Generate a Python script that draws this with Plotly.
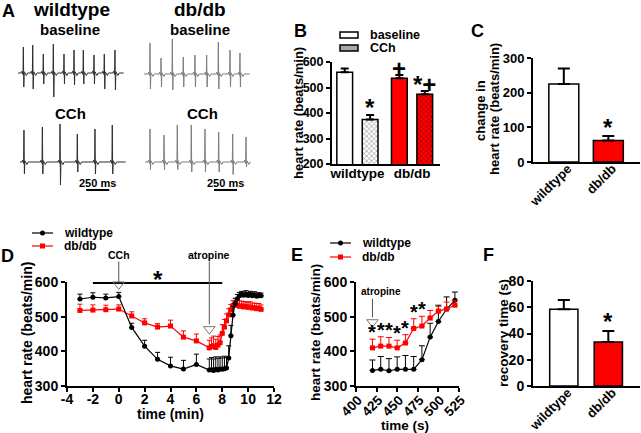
import plotly.graph_objects as go

W, H = 641, 433
FONT = "Liberation Sans"

# ---------------- data ----------------
# Panel A: ECG traces (beat times in ms, R and S amplitudes in mV)
WT_BASE_BEATS = [58, 160, 275, 384, 500, 609, 710, 826, 938, 1054]
WT_BASE_R = [1.04, 1.12, 0.76, 1.16, 0.76, 0.92, 0.92, 0.72, 0.76, 0.92]
WT_BASE_S = [0.56, 0.64, 0.44, 0.96, 0.44, 0.48, 0.44, 0.44, 0.64, 0.68]

DB_BASE_BEATS = [65, 185, 308, 427, 554, 681, 808, 935, 1043]
DB_BASE_R = [1.24, 0.64, 1.44, 0.68, 0.76, 0.76, 1.28, 0.96, 0.84]
DB_BASE_S = [0.60, 0.52, 0.64, 0.52, 0.52, 0.52, 0.60, 0.52, 0.52]

WT_CCH_BEATS = [43, 243, 435, 623, 815, 1003]
WT_CCH_R = [1.28, 1.40, 1.52, 1.12, 1.32, 1.48]
WT_CCH_S = [0.48, 0.48, 0.92, 0.40, 0.48, 0.48]

DB_CCH_BEATS = [54, 207, 351, 503, 652, 801, 953, 1098]
DB_CCH_R = [1.32, 1.08, 1.48, 1.48, 1.32, 1.20, 1.12, 1.00]
DB_CCH_S = [0.30, 0.30, 0.30, 0.40, 0.40, 0.40, 0.50, 0.20]

ECG_DURATION_MS = 1150
SCALE_BAR_MS = 250

# Panel B
B_GROUP = ["wildtype", "wildtype", "db/db", "db/db"]
B_COND = ["baseline", "CCh", "baseline", "CCh"]
B_MEAN = [560, 375, 536, 474]
B_SEM = [15, 17, 13, 12]
B_SIG = ["", "*", "+", "*+"]

# Panel C
C_GROUP = ["wildtype", "db/db"]
C_MEAN = [225, 62]
C_SEM = [45, 13]
C_SIG = ["", "*"]

# Panel D (time in min)
D_TIME = [-3, -2, -1, 0, 1, 2, 3, 4, 5, 6, 7,
          7.17, 7.33, 7.5, 7.67, 7.83, 8.0, 8.17, 8.33, 8.5, 8.67, 8.83,
          9.0, 9.17, 9.33, 9.5, 9.67, 9.83, 10.0, 10.17, 10.33, 10.5, 10.67, 10.83, 11.0]
D_WT = [551, 556, 554, 558, 469, 415, 377, 358, 349, 362, 346,
        347, 345, 348, 346, 349, 348, 350, 352, 381, 445, 505,
        538, 552, 560, 563, 562, 565, 561, 563, 560, 562, 559, 560, 560]
D_WT_SEM = [14, 13, 11, 12, 12, 17, 20, 25, 25, 30, 32,
            35, 33, 36, 34, 35, 33, 36, 30, 35, 30, 25,
            15, 12, 10, 10, 9, 10, 9, 10, 9, 10, 9, 9, 8]
D_DB = [518, 519, 520, 522, 502, 482, 470, 473, 441, 430, 410,
        414, 416, 411, 418, 425, 452, 470, 488, 505, 520, 532,
        535, 533, 530, 531, 528, 530, 527, 528, 525, 526, 523, 524, 521]
D_DB_SEM = [18, 15, 13, 12, 12, 12, 10, 17, 18, 20, 22,
            25, 28, 24, 25, 22, 25, 22, 20, 18, 15, 14,
            12, 14, 15, 14, 15, 13, 14, 15, 14, 13, 15, 14, 13]
D_EVENTS = ["CCh", "atropine"]
D_EVENT_TIME = [0, 7]
D_SIG_SPAN = [-2, 8]

# Panel E (time in s)
E_TIME = [420, 430, 440, 450, 460, 470, 480, 490, 500, 510, 520]
E_WT = [345, 348, 344, 348, 348, 348, 376, 441, 486, 522, 547]
E_WT_SEM = [30, 37, 35, 36, 40, 37, 40, 40, 47, 35, 24]
E_DB = [410, 415, 415, 410, 424, 466, 473, 496, 516, 522, 533]
E_DB_SEM = [25, 27, 25, 22, 24, 28, 28, 22, 14, 20, 14]
E_SIG = ["*", "*", "*", "*", "*", "*", "*", "", "", "", ""]
E_EVENT_TIME = 420

# Panel F
F_GROUP = ["wildtype", "db/db"]
F_MEAN = [58.5, 33.5]
F_SEM = [7, 8.5]
F_SIG = ["", "*"]

# ---------------- helpers ----------------
fig = go.Figure()
axes = {}
annotations = []
shapes = []


def ids(n):
    return ("x" if n == 1 else f"x{n}"), ("y" if n == 1 else f"y{n}")


def set_axes(n, x0, x1, y0, y1, xopts, yopts):
    xa = "xaxis" if n == 1 else f"xaxis{n}"
    ya = "yaxis" if n == 1 else f"yaxis{n}"
    xid, yid = ids(n)
    axes[xa] = dict(domain=[x0 / W, x1 / W], anchor=yid, fixedrange=True, **xopts)
    axes[ya] = dict(domain=[1 - y1 / H, 1 - y0 / H], anchor=xid, fixedrange=True, **yopts)


def style(size, **kw):
    d = dict(showline=True, linecolor="black", linewidth=2, ticks="outside",
             ticklen=4, tickwidth=2, tickcolor="black", showgrid=False,
             zeroline=False, automargin=False,
             tickfont=dict(family=FONT, size=size, color="black", weight="bold"))
    d.update(kw)
    return d


def text(x, y, s, size, xref="paper", yref="paper", angle=0, xanchor="center",
         yanchor="middle", weight="bold", color="black", xshift=0, yshift=0):
    if xref == "paper":
        x = x / W
    if yref == "paper":
        y = 1 - y / H
    annotations.append(dict(x=x, y=y, xref=xref, yref=yref, text=s, showarrow=False,
                            textangle=angle, xanchor=xanchor, yanchor=yanchor,
                            xshift=xshift, yshift=yshift,
                            font=dict(family=FONT, size=size, color=color, weight=weight)))


def ecg(beats, r, s):
    xs, ys = [0], [0]
    for t, R, S in zip(beats, r, s):
        xs += [t - 22, t - 16, t - 11, t - 4, t, t + 5, t + 10, t + 18, t + 32, t + 46]
        ys += [0, 0.07, 0, -0.06, R, -S, 0.05, 0, -0.1, 0]
    xs.append(ECG_DURATION_MS)
    ys.append(0)
    return xs, ys


# ---------------- Panel A ----------------
PXMS = 0.092  # px per ms
PXMV = 25     # px per mV
ecg_sets = [
    (1, WT_BASE_BEATS, WT_BASE_R, WT_BASE_S, 18, 73, "#2e2e2e", 1.4, 1.2),
    (2, DB_BASE_BEATS, DB_BASE_R, DB_BASE_S, 144, 74, "#7d7d7d", 1.4, 1.2),
    (3, WT_CCH_BEATS, WT_CCH_R, WT_CCH_S, 20, 162, "#2e2e2e", 1.6, 1.4),
    (4, DB_CCH_BEATS, DB_CCH_R, DB_CCH_S, 145, 162, "#7d7d7d", 1.6, 1.4),
]
for n, bt, r, s, left, base, col, top, bot in ecg_sets:
    set_axes(n, left, left + ECG_DURATION_MS * PXMS, base - top * PXMV, base + bot * PXMV,
             dict(visible=False, range=[0, ECG_DURATION_MS]),
             dict(visible=False, range=[-bot, top]))
    xs, ys = ecg(bt, r, s)
    xid, yid = ids(n)
    fig.add_scatter(x=xs, y=ys, mode="lines", line=dict(color=col, width=1),
                    xaxis=xid, yaxis=yid, cliponaxis=False, hoverinfo="skip")

# scale bars
for n, start in [(3, 720), (4, 750)]:
    xid, yid = ids(n)
    fig.add_scatter(x=[start, start + SCALE_BAR_MS], y=[-1.12, -1.12], mode="lines",
                    line=dict(color="black", width=2), xaxis=xid, yaxis=yid,
                    cliponaxis=False, hoverinfo="skip")
    text(start + SCALE_BAR_MS / 2, -0.82, f"{SCALE_BAR_MS} ms", 11, xref=xid, yref=yid)

text(8.5, 11, "A", 18)
text(71, 9, "wildtype", 19)
text(200, 9, "db/db", 19)
text(70, 29, "baseline", 15)
text(200, 29, "baseline", 15)
text(70, 113, "CCh", 15)
text(202, 113, "CCh", 15)

# ---------------- Panel B ----------------
B_POS = [0.5, 1.5, 2.65, 3.65]
B_SIG_SHIFT = [0, 8, 7, 7]
set_axes(5, 332, 440, 62, 164,
         style(13.5, range=[0, 4.25], ticks="", tickvals=[1.0, 3.15],
               ticktext=["wildtype", "db/db"], ticklabelstandoff=-4),
         style(12.5, range=[200, 600], tickvals=[200, 300, 400, 500, 600]))
for i in range(4):
    col = "white" if B_GROUP[i] == "wildtype" else "#ff0000"
    marker = dict(color=col, line=dict(color="black", width=1.5))
    if B_COND[i] == "CCh":
        marker["pattern"] = dict(shape="x", fgcolor="black", bgcolor=col, size=3.5,
                                 solidity=0.3)
    fig.add_bar(x=[B_POS[i]], y=[B_MEAN[i]], width=0.62, marker=marker,
                error_y=dict(type="data", symmetric=False, array=[B_SEM[i]],
                             arrayminus=[0], color="black", thickness=2, width=4),
                xaxis="x5", yaxis="y5", hoverinfo="skip")
    if B_SIG[i]:
        text(B_POS[i], B_MEAN[i] + B_SEM[i], B_SIG[i], 24, xref="x5", yref="y5",
             yshift=B_SIG_SHIFT[i])
text(300, 31, "B", 18)
text(298, 113, "heart rate (beats/min)", 13, angle=-90)
# legend
shapes.append(dict(type="rect", xref="paper", yref="paper", x0=340 / W, x1=358 / W,
                   y0=1 - 38 / H, y1=1 - 32 / H, fillcolor="white",
                   line=dict(color="black", width=1.5)))
shapes.append(dict(type="rect", xref="paper", yref="paper", x0=340 / W, x1=358 / W,
                   y0=1 - 51 / H, y1=1 - 45 / H, fillcolor="#a8a8a8",
                   line=dict(color="black", width=1.5)))
text(368, 35, "baseline", 12.5, xanchor="left")
text(368, 48, "CCh", 12.5, xanchor="left")

# ---------------- Panel C ----------------
CF_POS = [0.72, 1.76]
set_axes(6, 533, 640, 58, 162,
         style(13, range=[0, 2.5], ticks="", tickvals=CF_POS, ticktext=C_GROUP,
               tickangle=-45, ticklabelstandoff=-8, ticklabelshift=4),
         style(13, range=[0, 300], tickvals=[0, 100, 200, 300]))
for i in range(2):
    col = "white" if C_GROUP[i] == "wildtype" else "#ff0000"
    fig.add_bar(x=[CF_POS[i]], y=[C_MEAN[i]], width=0.7,
                marker=dict(color=col, line=dict(color="black", width=1.5)),
                error_y=dict(type="data", symmetric=False, array=[C_SEM[i]],
                             arrayminus=[0], color="black", thickness=2, width=6),
                xaxis="x6", yaxis="y6", hoverinfo="skip")
    if C_SIG[i]:
        text(CF_POS[i], C_MEAN[i] + C_SEM[i], C_SIG[i], 24, xref="x6", yref="y6", yshift=9)
text(477.5, 31, "C", 18)
text(480, 111, "change in", 13, angle=-90)
text(494, 109, "heart rate (beats/min)", 13, angle=-90)

# ---------------- Panel D ----------------
set_axes(7, 67, 274, 282, 386,
         style(14, range=[-4, 12], tickvals=list(range(-4, 13, 2)),
               ticktext=[str(v) for v in range(-4, 13, 2)], ticklabelstandoff=-5),
         style(14, range=[300, 600], tickvals=[300, 400, 500, 600]))
n = len(D_TIME)
fig.add_scatter(x=D_TIME, y=D_DB, mode="lines+markers",
                line=dict(color="#ff0000", width=1.2),
                marker=dict(symbol="square", size=5, color="#ff0000"),
                error_y=dict(type="data", symmetric=False, array=D_DB_SEM,
                             arrayminus=[0] * n, color="#ff0000", thickness=1, width=2.5),
                xaxis="x7", yaxis="y7", hoverinfo="skip")
fig.add_scatter(x=D_TIME, y=D_WT, mode="lines+markers",
                line=dict(color="black", width=1.2),
                marker=dict(symbol="circle", size=5, color="black"),
                error_y=dict(type="data", symmetric=False, array=D_WT_SEM,
                             arrayminus=[0] * n, color="black", thickness=1, width=2.5),
                xaxis="x7", yaxis="y7", hoverinfo="skip")
fig.add_scatter(x=D_SIG_SPAN, y=[597, 597], mode="lines", line=dict(color="black", width=2),
                xaxis="x7", yaxis="y7", cliponaxis=False, hoverinfo="skip")
text(sum(D_SIG_SPAN) / 2, 597, "*", 24, xref="x7", yref="y7", yshift=4)
# event arrows
D_TRI_Y = [593, 464]
D_ARROW_TOP = [600, 478]
for ev, t, ty, at in zip(D_EVENTS, D_EVENT_TIME, D_TRI_Y, D_ARROW_TOP):
    text(t, 255, ev, 10.5, xref="x7")
    y_at_px = 282 + (600 - at) * 104 / 300
    annotations.append(dict(x=t, y=at, xref="x7", yref="y7", text="", showarrow=True,
                            arrowhead=0, arrowwidth=1, arrowcolor="#555", ax=0,
                            ay=-(y_at_px - 260), axref="pixel", ayref="pixel"))
fig.add_scatter(x=D_EVENT_TIME, y=D_TRI_Y, mode="markers",
                marker=dict(symbol="triangle-down-open", size=10, color="#777",
                            line=dict(width=1)),
                xaxis="x7", yaxis="y7", cliponaxis=False, hoverinfo="skip")
text(7.5, 256, "D", 18)
text(27, 333, "heart rate (beats/min)", 14, angle=-90)
text(170, 414, "time (min)", 14)

# ---------------- Panel E ----------------
set_axes(8, 356, 459, 282, 386,
         style(13.5, range=[400, 525], tickvals=list(range(400, 526, 25)), tickangle=-45,
               ticklabelstandoff=-5, ticklabelshift=2),
         style(14, range=[300, 600], tickvals=[300, 400, 500, 600]))
m = len(E_TIME)
fig.add_scatter(x=E_TIME, y=E_WT, mode="lines+markers",
                line=dict(color="black", width=1.2),
                marker=dict(symbol="circle", size=5, color="black"),
                error_y=dict(type="data", symmetric=False, array=E_WT_SEM,
                             arrayminus=[0] * m, color="black", thickness=1, width=3),
                xaxis="x8", yaxis="y8", hoverinfo="skip")
fig.add_scatter(x=E_TIME, y=E_DB, mode="lines+markers",
                line=dict(color="#ff0000", width=1.2),
                marker=dict(symbol="square", size=5, color="#ff0000"),
                error_y=dict(type="data", symmetric=False, array=E_DB_SEM,
                             arrayminus=[0] * m, color="#ff0000", thickness=1, width=3),
                xaxis="x8", yaxis="y8", hoverinfo="skip")
for t, v, e, s in zip(E_TIME, E_DB, E_DB_SEM, E_SIG):
    if s:
        text(t, v + e, s, 20, xref="x8", yref="y8", yshift=7)
text(E_EVENT_TIME, 291, "atropine", 10, xref="x8", xshift=9)
annotations.append(dict(x=E_EVENT_TIME, y=498, xref="x8", yref="y8", text="", showarrow=True,
                        arrowhead=0, arrowwidth=1, arrowcolor="#555", ax=0, ay=-20,
                        axref="pixel", ayref="pixel"))
fig.add_scatter(x=[E_EVENT_TIME], y=[484], mode="markers",
                marker=dict(symbol="triangle-down-open", size=10, color="#777",
                            line=dict(width=1)),
                xaxis="x8", yaxis="y8", cliponaxis=False, hoverinfo="skip")
text(296.5, 255, "E", 18)
text(315, 333, "heart rate (beats/min)", 13.5, angle=-90)
text(405, 425, "time (s)", 13.5)

# ---------------- Panel F ----------------
set_axes(9, 533, 640, 281, 386,
         style(13, range=[0, 2.5], ticks="", tickvals=CF_POS, ticktext=F_GROUP,
               tickangle=-45, ticklabelstandoff=-8, ticklabelshift=4),
         style(14, range=[0, 80], tickvals=[0, 20, 40, 60, 80]))
for i in range(2):
    col = "white" if F_GROUP[i] == "wildtype" else "#ff0000"
    fig.add_bar(x=[CF_POS[i]], y=[F_MEAN[i]], width=0.66,
                marker=dict(color=col, line=dict(color="black", width=1.5)),
                error_y=dict(type="data", symmetric=False, array=[F_SEM[i]],
                             arrayminus=[0], color="black", thickness=2, width=6),
                xaxis="x9", yaxis="y9", hoverinfo="skip")
    if F_SIG[i]:
        text(CF_POS[i], F_MEAN[i] + F_SEM[i], F_SIG[i], 24, xref="x9", yref="y9", yshift=9)
text(488.5, 255, "F", 18)
text(503, 333, "recovery time (s)", 13.5, angle=-90)

# ---------------- legends D & E (manual) ----------------
def legend_item(x0, y, color, symbol, label):
    shapes.append(dict(type="line", xref="paper", yref="paper", x0=x0 / W, x1=(x0 + 21) / W,
                       y0=1 - y / H, y1=1 - y / H, line=dict(color=color, width=1.2)))
    cx = x0 + 10.5
    shapes.append(dict(type="circle" if symbol == "circle" else "rect", xref="paper",
                       yref="paper", x0=(cx - 2.5) / W, x1=(cx + 2.5) / W,
                       y0=1 - (y + 2.5) / H, y1=1 - (y - 2.5) / H, fillcolor=color,
                       line=dict(color=color, width=0)))
    text(x0 + 30, y, label, 12, xanchor="left")


legend_item(32, 233, "black", "circle", "wildtype")
legend_item(32, 246, "#ff0000", "square", "db/db")
legend_item(330, 243, "black", "circle", "wildtype")
legend_item(330, 257, "#ff0000", "square", "db/db")

fig.update_layout(width=W, height=H, margin=dict(l=0, r=0, t=0, b=0),
                  paper_bgcolor="white", plot_bgcolor="white", showlegend=False,
                  font=dict(family=FONT, color="black"), bargap=0,
                  annotations=annotations, shapes=shapes, **axes)
fig.write_html("out.html", config={"displayModeBar": False, "staticPlot": True},
               post_script="document.body.style.margin='0';document.body.style.padding='0';")
